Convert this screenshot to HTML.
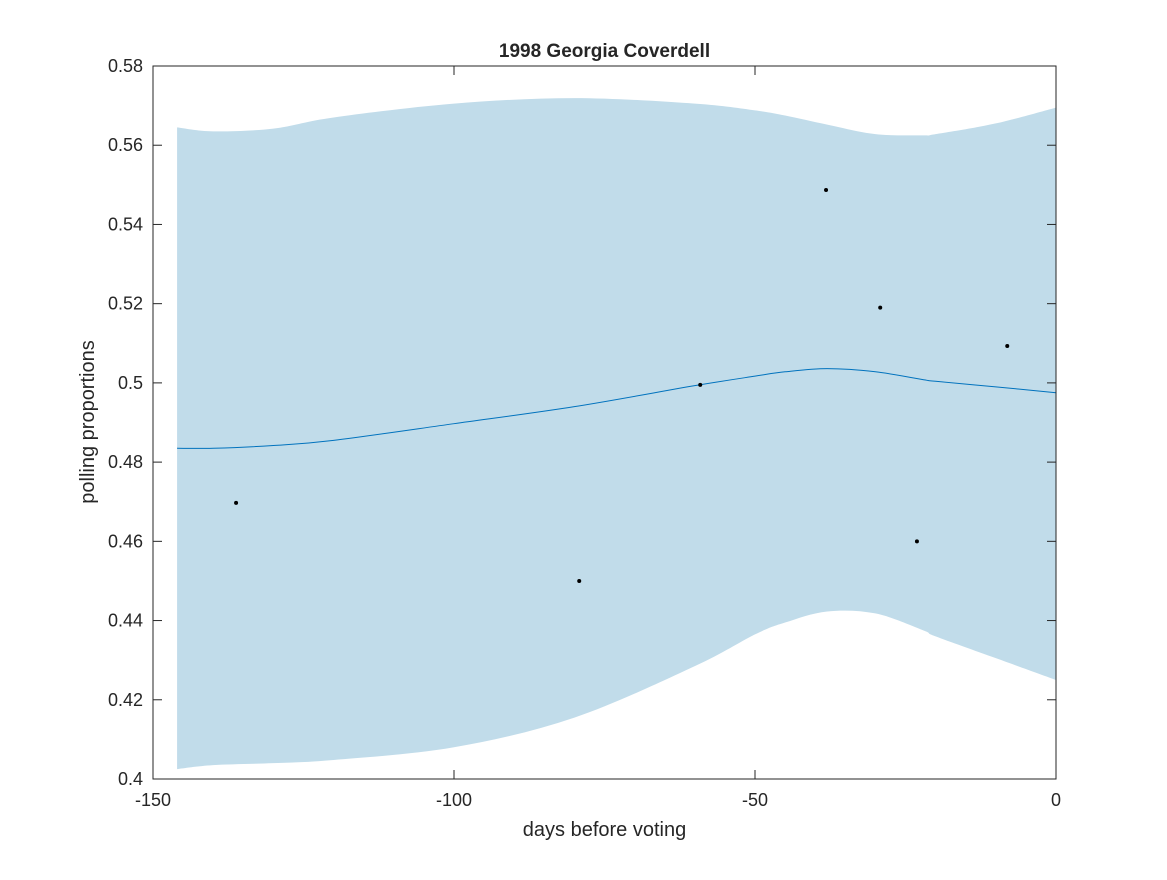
<!DOCTYPE html>
<html><head><meta charset="utf-8"><style>
body{margin:0;background:#fff;}
svg text{font-family:"Liberation Sans",sans-serif;fill:#262626;}
</style></head><body>
<svg id="chart" width="1167" height="875">
<rect width="1167" height="875" fill="#fff"/>
<g id="plot"></g>
</svg>
<script>
const xTicks=[-150,-100,-50,0];
const yTicks=[0.4,0.42,0.44,0.46,0.48,0.5,0.52,0.54,0.56,0.58];
const pointDays=[-136.2,-79.2,-59.1,-38.2,-29.2,-23.1,-8.1];
const pointVals=[0.4697,0.45,0.4995,0.5487,0.519,0.46,0.5093];
const curveDays=[-146,-140,-130,-120,-100,-80,-60,-50,-45,-38,-30,-22,-20,-10,0];
const meanVals=[0.4835,0.4835,0.4842,0.4855,0.4897,0.494,0.4993,0.5017,0.5028,0.5036,0.5028,0.5008,0.5004,0.499,0.4975];
const upperVals=[0.5645,0.5635,0.5642,0.567,0.5705,0.5719,0.5705,0.5688,0.5675,0.5652,0.5628,0.5625,0.5628,0.5655,0.5695];
const lowerVals=[0.4025,0.4035,0.404,0.4048,0.408,0.4155,0.4285,0.4365,0.4395,0.4423,0.4418,0.4375,0.436,0.4305,0.425];
const L=153,R=1056,T=66,B=779;
const sx=d=>L+(d+150)/150*(R-L);
const sy=v=>B-(v-0.4)/0.18*(B-T);
const ns="http://www.w3.org/2000/svg";
const g=document.getElementById('plot');
function mk(t,a){const e=document.createElementNS(ns,t);for(const k in a)e.setAttribute(k,a[k]);g.appendChild(e);return e;}
function smooth(pts,start){
  let s=start?('M'+pts[0][0]+','+pts[0][1]):(' L'+pts[0][0]+','+pts[0][1]);
  for(let i=0;i<pts.length-1;i++){
    const p0=pts[Math.max(i-1,0)],p1=pts[i],p2=pts[i+1],p3=pts[Math.min(i+2,pts.length-1)];
    const c1=[p1[0]+(p2[0]-p0[0])/6,p1[1]+(p2[1]-p0[1])/6];
    const c2=[p2[0]-(p3[0]-p1[0])/6,p2[1]-(p3[1]-p1[1])/6];
    s+=' C'+c1[0]+','+c1[1]+' '+c2[0]+','+c2[1]+' '+p2[0]+','+p2[1];
  }
  return s;
}
const up=curveDays.map((x,i)=>[sx(x),sy(upperVals[i])]);
const lo=curveDays.map((x,i)=>[sx(x),sy(lowerVals[i])]).reverse();
const band=mk('path',{d:smooth(up,true)+smooth(lo,false)+'Z',fill:'#c1dcea'});


const line=mk('path',{d:smooth(curveDays.map((x,i)=>[sx(x),sy(meanVals[i])]),true),fill:'none',stroke:'#0072bd','stroke-width':1});


pointDays.forEach((x,i)=>{const c=mk('circle',{cx:sx(x),cy:sy(pointVals[i]),r:2,fill:'#000'});

});
const frame=mk('rect',{x:L,y:T,width:R-L,height:B-T,fill:'none',stroke:'#262626','stroke-width':1});


xTicks.forEach(v=>{const x=sx(v);
mk('line',{x1:x,x2:x,y1:B,y2:B-9,stroke:'#262626'});mk('line',{x1:x,x2:x,y1:T,y2:T+9,stroke:'#262626'});
const t=mk('text',{x:x,y:B+27,'text-anchor':'middle','font-size':18});t.textContent=v;

});
yTicks.forEach(v=>{const y=sy(v);
mk('line',{x1:L,x2:L+9,y1:y,y2:y,stroke:'#262626'});mk('line',{x1:R,x2:R-9,y1:y,y2:y,stroke:'#262626'});
const t=mk('text',{x:L-10,y:y+6,'text-anchor':'end','font-size':18});t.textContent=String(+v.toFixed(2));

});
const xt=mk('text',{x:(L+R)/2,y:836,'text-anchor':'middle','font-size':20});xt.textContent='days before voting';


const yt=mk('text',{x:0,y:0,'text-anchor':'middle','font-size':20,transform:'translate(94,422) rotate(-90)'});yt.textContent='polling proportions';


const tt=mk('text',{x:(L+R)/2,y:57,'text-anchor':'middle','font-size':19,'font-weight':'bold'});tt.textContent='1998 Georgia Coverdell';


</script>
</body></html>
